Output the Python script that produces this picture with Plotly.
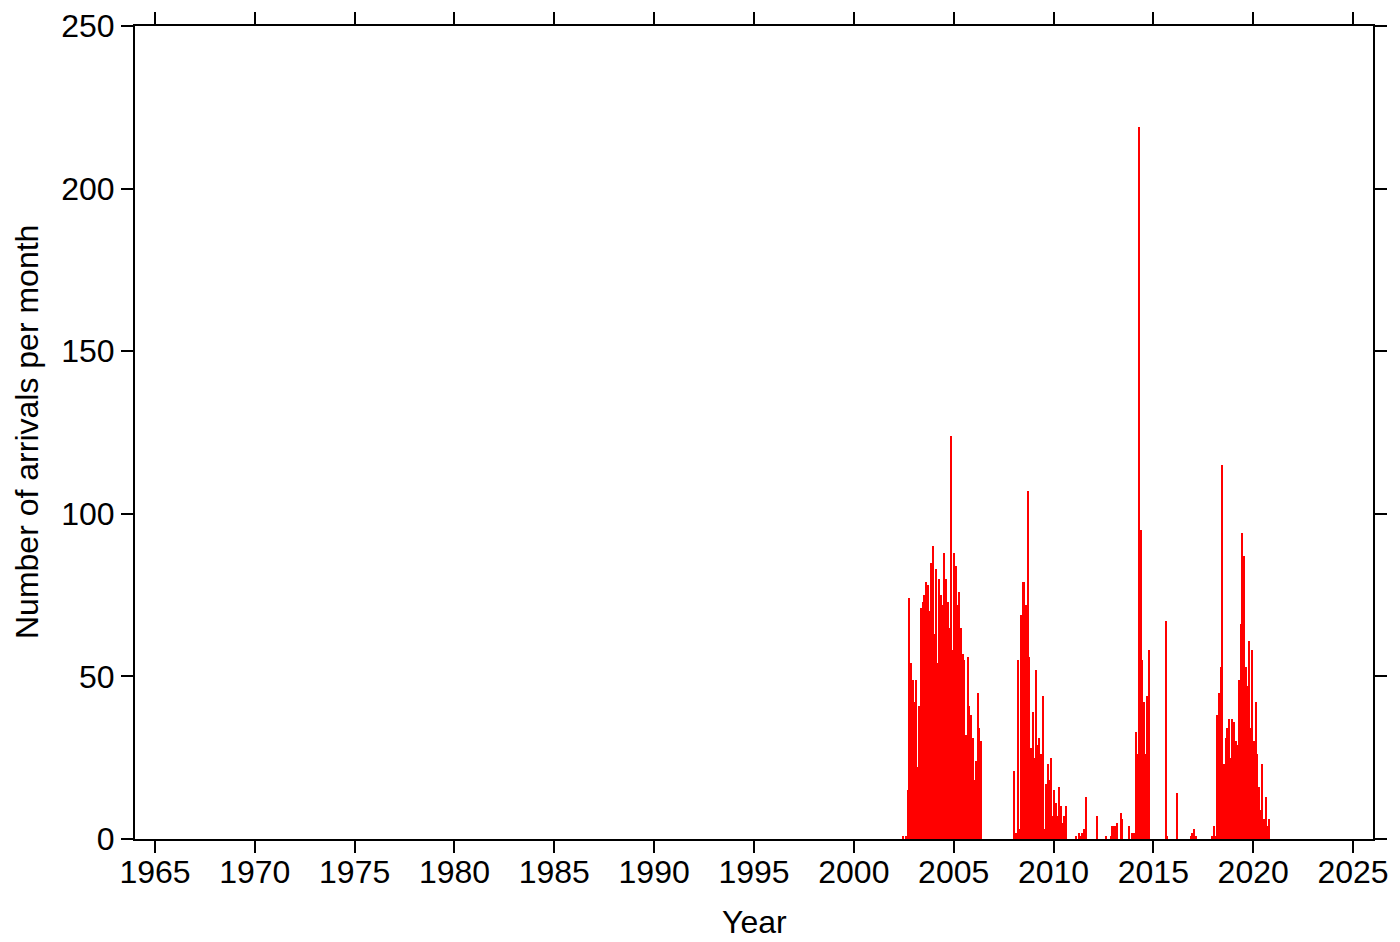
import plotly.graph_objects as go

# ---- data: monthly arrival counts (segments of consecutive months) ----
seg1_start = "2002-09"
seg1_counts = [15, 74, 54, 49,
               42, 49, 22, 41, 71, 73, 75, 79, 78, 70, 85, 90,
               63, 83, 54, 80, 75, 72, 88, 80, 73, 65, 124, 58,
               88, 84, 72, 76, 65, 57, 55, 32, 56, 41, 38, 31,
               18, 24, 45, 34, 30]

seg2_start = "2008-01"
seg2_counts = [21, 2, 55, 3, 69, 79, 79, 72, 107, 56, 28, 39,
               25, 52, 29, 31, 26, 44, 3, 17, 23, 18, 25, 7,
               15, 11, 7, 16, 10, 5, 7, 10]

seg3_start = "2014-02"
seg3_counts = [33, 26, 219, 95, 55, 42, 26, 44, 58]

seg4_start = "2018-01"
seg4_counts = [4, 1, 38, 45, 53, 115, 23, 31, 34, 37, 25, 37,
               36, 30, 29, 49, 66, 94, 87, 53, 47, 61, 34, 58,
               30, 42, 26, 16, 9, 23, 6, 13, 4, 6]

sparse_months = ["2002-06", "2002-08", "2011-02", "2011-04", "2011-05", "2011-06",
                 "2011-07", "2011-08", "2012-03", "2012-08", "2012-11", "2012-12",
                 "2013-01", "2013-02", "2013-03", "2013-05", "2013-06", "2013-10",
                 "2013-12", "2014-01", "2015-08", "2015-09", "2016-03", "2016-11",
                 "2016-12", "2017-01", "2017-02", "2017-12"]
sparse_counts = [1, 1, 1, 2, 1, 2,
                 3, 13, 7, 1, 1, 4,
                 4, 4, 5, 8, 6, 4,
                 2, 2, 67, 1, 14, 1,
                 2, 3, 1, 1]

x_ticks = [1965, 1970, 1975, 1980, 1985, 1990, 1995, 2000, 2005, 2010, 2015, 2020, 2025]
y_ticks = [0, 50, 100, 150, 200, 250]


def month_index(label):
    y, m = label.split("-")
    return int(y) * 12 + int(m) - 1


xs, ys = [], []
for start, counts in [(seg1_start, seg1_counts), (seg2_start, seg2_counts),
                      (seg3_start, seg3_counts), (seg4_start, seg4_counts)]:
    s = month_index(start)
    for i, c in enumerate(counts):
        xs.append((s + i) / 12.0 + 1 / 24.0)
        ys.append(c)
for lab, c in zip(sparse_months, sparse_counts):
    xs.append(month_index(lab) / 12.0 + 1 / 24.0)
    ys.append(c)

fig = go.Figure()
fig.add_trace(go.Bar(
    x=xs, y=ys, width=[0.8 / 12.0] * len(xs),
    marker=dict(color="#ff0000", line=dict(width=0)),
    showlegend=False,
))

FONT = "Liberation Sans, Arial, Helvetica, sans-serif"
axis_common = dict(
    showline=True, linecolor="black", linewidth=2, mirror="ticks",
    ticks="outside", ticklen=12, tickwidth=1.5, tickcolor="black",
    showgrid=False, zeroline=False, automargin=False,
    ticklabeloverflow="allow",
    tickfont=dict(family=FONT, size=32, color="black"),
)

W, H = 1392, 934
L, R, T, B = 127, 27, 18, 103
plot_w = W - L - R
plot_h = H - T - B

fig.update_layout(
    width=W, height=H,
    margin=dict(l=L, r=R, t=T, b=B),
    paper_bgcolor="white", plot_bgcolor="white",
    bargap=0,
    xaxis=dict(range=[1964, 2026], tickvals=x_ticks,
               ticktext=[str(v) for v in x_ticks], **axis_common),
    yaxis=dict(range=[0, 250], tickvals=y_ticks,
               ticktext=[str(v) for v in y_ticks], **axis_common),
    annotations=[
        dict(text="Year", xref="paper", yref="paper", x=0.5,
             y=-(914 - (H - B)) / plot_h,
             xanchor="center", yanchor="middle", showarrow=False,
             font=dict(family=FONT, size=32, color="black")),
        dict(text="Number of arrivals per month", xref="paper", yref="paper",
             x=(18.5 - L) / plot_w, y=0.5, xanchor="center", yanchor="middle",
             textangle=-90, showarrow=False,
             font=dict(family=FONT, size=32, color="black")),
    ],
)
fig.update_xaxes(ticklabelstandoff=-8)

fig.write_html("out.html")
